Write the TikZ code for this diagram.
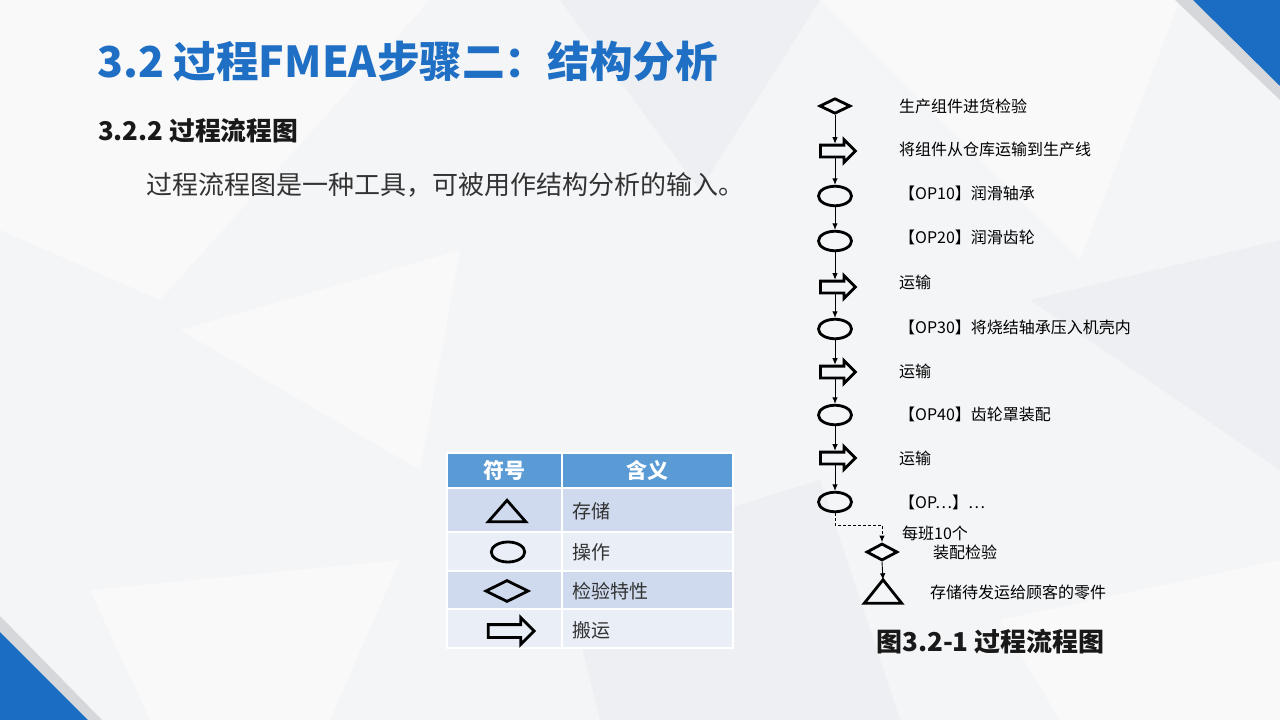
\documentclass[tikz,border=0pt]{standalone}
\usepackage{fontspec}
\setmainfont{Noto Sans CJK SC}
\usetikzlibrary{shapes.geometric,shapes.arrows,arrows.meta,calc}
\definecolor{titleblue}{HTML}{1F6FC4}
\definecolor{cornerblue}{HTML}{1A6DC2}
\definecolor{cornergray}{HTML}{D6D7DA}
\definecolor{hdrblue}{HTML}{5B9BD5}
\definecolor{rowdark}{HTML}{CFDAEE}
\definecolor{rowlight}{HTML}{E9EEF7}
\definecolor{txt}{HTML}{333333}
\definecolor{bg}{HTML}{F4F5F7}
\definecolor{bglight}{HTML}{F9F9FA}
\definecolor{bgdark}{HTML}{EEEFF2}
\begin{document}
\begin{tikzpicture}[x=1pt,y=-1pt,
  sym/.style={draw=black,line width=2.8pt,inner sep=0pt},
  opnode/.style={sym,ellipse,minimum width=33pt,minimum height=19.5pt},
  chk/.style={sym,diamond,minimum width=31pt,minimum height=15.5pt},
  mov/.style={sym,single arrow,single arrow head extend=5.5pt,inner xsep=0pt,inner ysep=4.5pt,minimum height=35pt},
  flowtxt/.style={anchor=west,inner sep=0pt,font=\fontsize{16}{19}\selectfont,text=black},
  conn/.style={-{Latex[length=6.5pt,width=5.5pt]},line width=0.9pt},
  dconn/.style={conn,dashed,dash pattern=on 3pt off 2pt},
  cell/.style={draw=white,line width=1.5pt,inner sep=0pt},
  celltxt/.style={anchor=west,inner sep=0pt,font=\fontsize{19}{22}\selectfont,text=txt},
  hdrtxt/.style={inner sep=0pt,font=\fontsize{21}{24}\selectfont\bfseries,text=white},
  tri/.style={draw=black,line width=2.8pt,line join=miter}
]
\useasboundingbox (0,0) rectangle (1280,720);
% background
\fill[bg] (0,0) rectangle (1280,720);
\fill[bglight] (0,0) -- (430,0) -- (160,300) -- (0,230) -- cycle;
\fill[bgdark] (560,0) -- (820,0) -- (700,190) -- cycle;
\fill[bglight] (820,0) -- (1180,0) -- (1080,260) -- cycle;
\fill[bgdark] (1030,300) -- (1280,240) -- (1280,470) -- cycle;
\fill[bglight] (180,330) -- (460,250) -- (420,470) -- cycle;
\fill[bgdark] (560,560) -- (820,480) -- (900,720) -- (600,720) -- cycle;
\fill[bglight] (90,590) -- (400,560) -- (330,720) -- (150,720) -- cycle;
\fill[bglight] (1000,620) -- (1280,560) -- (1280,720) -- (1060,720) -- cycle;
% corners
\fill[cornergray] (1175,0) -- (1280,0) -- (1280,100) -- cycle;
\fill[cornerblue] (1193,0) -- (1280,0) -- (1280,86) -- cycle;
\fill[cornergray] (0,616) -- (102,720) -- (0,720) -- cycle;
\fill[cornerblue] (0,632) -- (88,720) -- (0,720) -- cycle;

% titles
\node[anchor=west,inner sep=0pt,text=titleblue,font=\fontsize{42.6}{48}\selectfont\bfseries] (title) at (97,61) {3.2 过程FMEA步骤二：结构分析};
\node[anchor=west,inner sep=0pt,text=black!90,font=\fontsize{25.8}{29}\selectfont\bfseries] (sub) at (98,131) {3.2.2 过程流程图};
\node[anchor=west,inner sep=0pt,text=txt,font=\fontsize{26}{30}\selectfont] (body) at (146,185) {过程流程图是一种工具，可被用作结构分析的输入。};

% table
\node[cell,fill=hdrblue,minimum width=115pt,minimum height=35pt] (h1) at (504.5,470.5) {};
\node[cell,fill=hdrblue,minimum width=171pt,minimum height=35pt] (h2) at (647.5,470.5) {};
\node[cell,fill=rowdark,minimum width=115pt,minimum height=44pt] (r1a) at (504.5,510) {};
\node[cell,fill=rowdark,minimum width=171pt,minimum height=44pt] (r1b) at (647.5,510) {};
\node[cell,fill=rowlight,minimum width=115pt,minimum height=39pt] (r2a) at (504.5,551.5) {};
\node[cell,fill=rowlight,minimum width=171pt,minimum height=39pt] (r2b) at (647.5,551.5) {};
\node[cell,fill=rowdark,minimum width=115pt,minimum height=38pt] (r3a) at (504.5,590) {};
\node[cell,fill=rowdark,minimum width=171pt,minimum height=38pt] (r3b) at (647.5,590) {};
\node[cell,fill=rowlight,minimum width=115pt,minimum height=39pt] (r4a) at (504.5,628.5) {};
\node[cell,fill=rowlight,minimum width=171pt,minimum height=39pt] (r4b) at (647.5,628.5) {};
\node[hdrtxt] (ht1) at (h1) {符号};
\node[hdrtxt] (ht2) at (h2) {含义};
\node[minimum width=37pt,minimum height=21pt,inner sep=0pt] (ts) at (507,511) {};
\draw[tri] (ts.south west) -- (ts.south east) -- (ts.north) -- cycle;
\node[sym,ellipse,minimum width=33.5pt,minimum height=20pt] (es) at (508,552) {};
\node[sym,diamond,minimum width=43pt,minimum height=22pt] (ds) at (507,591) {};
\node[sym,single arrow,single arrow head extend=7pt,inner xsep=0pt,inner ysep=5pt,minimum height=46pt] (as) at (508,631) {};
\node[celltxt] (c1) at (572,511) {存储};
\node[celltxt] (c2) at (572,552) {操作};
\node[celltxt] (c3) at (572,591) {检验特性};
\node[celltxt] (c4) at (572,630) {搬运};

% flow chart
\node[chk] (d1) at (835,106) {};
\node[mov] (a1) at (835,151) {};
\node[opnode] (o1) at (835,196) {};
\node[opnode] (o2) at (835,241) {};
\node[mov] (a2) at (835,287) {};
\node[opnode] (o3) at (835,329) {};
\node[mov] (a3) at (835,372) {};
\node[opnode] (o4) at (835,415) {};
\node[mov] (a4) at (835,458) {};
\node[opnode] (o5) at (835,502) {};
\coordinate (k) at (882,525);
\node[sym,diamond,minimum width=31pt,minimum height=17pt] (d2) at (882,552) {};
\node[minimum width=37pt,minimum height=23pt,inner sep=0pt] (t1) at (883,591.5) {};
\draw[tri] (t1.south west) -- (t1.south east) -- (t1.north) -- cycle;

\draw[conn] (d1) -- (a1);
\draw[conn] (a1) -- (o1);
\draw[conn] (o1) -- (o2);
\draw[conn] (o2) -- (a2);
\draw[conn] (a2) -- (o3);
\draw[conn] (o3) -- (a3);
\draw[conn] (a3) -- (o4);
\draw[conn] (o4) -- (a4);
\draw[conn] (a4) -- (o5);
\draw[dconn] (o5.south) |- (k) -- (d2.north);
\draw[conn] (d2.south) -- (t1.north);

\node[flowtxt] (l1) at (899,106) {生产组件进货检验};
\node[flowtxt] (l2) at (899,149) {将组件从仓库运输到生产线};
\node[flowtxt] (l3) at (899,193) {【OP10】润滑轴承};
\node[flowtxt] (l4) at (899,237) {【OP20】润滑齿轮};
\node[flowtxt] (l5) at (899,282) {运输};
\node[flowtxt] (l6) at (899,327) {【OP30】将烧结轴承压入机壳内};
\node[flowtxt] (l7) at (899,371) {运输};
\node[flowtxt] (l8) at (899,414) {【OP40】齿轮罩装配};
\node[flowtxt] (l9) at (899,458) {运输};
\node[flowtxt] (l10) at (899,502) {【OP…】…};
\node[flowtxt] (l11) at (902,533) {每班10个};
\node[flowtxt] (l12) at (933,552) {装配检验};
\node[flowtxt] (l13) at (930,592) {存储待发运给顾客的零件};
\node[anchor=west,inner sep=0pt,text=black!90,font=\fontsize{26}{30}\selectfont\bfseries] (cap) at (876,642) {图3.2-1 过程流程图};
\end{tikzpicture}
\end{document}
